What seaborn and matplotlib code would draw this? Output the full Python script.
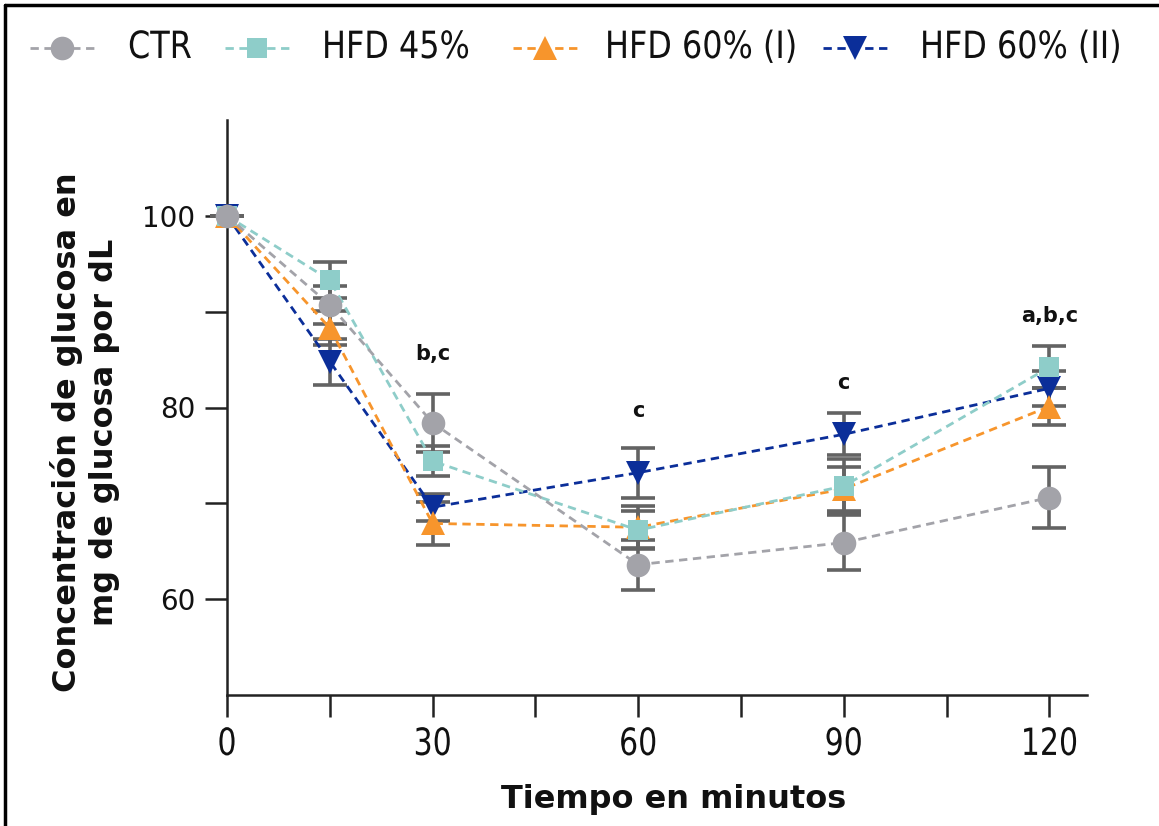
import matplotlib
matplotlib.use("Agg")
import matplotlib.pyplot as plt
from matplotlib.lines import Line2D
from matplotlib.transforms import Affine2D
import matplotlib.patheffects as pe
import numpy as np
import pandas as pd
import seaborn as sns

# Tiempo (min) y glucosa relativa (% del valor basal), media ± EEM
tiempo = [0, 15, 30, 60, 90, 120]
grupos = ["CTR", "HFD 45%", "HFD 60% (I)", "HFD 60% (II)"]

ctr_media = [100, 90.7, 78.4, 63.6, 65.9, 70.6]
ctr_eem = [0, 2.0, 3.0, 2.6, 2.9, 3.2]
hfd45_media = [100, 93.3, 74.4, 67.2, 71.8, 84.2]
hfd45_eem = [0, 1.9, 1.6, 2.0, 2.8, 2.2]
hfd60i_media = [100, 88.3, 67.9, 67.5, 71.5, 80.1]
hfd60i_eem = [0, 1.8, 2.2, 2.2, 2.3, 1.9]
hfd60ii_media = [100, 84.8, 69.6, 73.2, 77.2, 82.0]
hfd60ii_eem = [0, 2.4, 1.4, 2.6, 2.2, 1.8]

# Letras de significación sobre cada tiempo
letras_t = [30, 60, 90, 120]
letras = ["b,c", "c", "c", "a,b,c"]
letras_y = [85.6, 79.6, 82.6, 89.6]

colores = ["#a3a3a9", "#8ecdc9", "#f7952c", "#0b2e99"]
marcadores = ["o", "s", "^", "v"]
medias = [ctr_media, hfd45_media, hfd60i_media, hfd60ii_media]
eems = [ctr_eem, hfd45_eem, hfd60i_eem, hfd60ii_eem]

df = pd.DataFrame({
    "Tiempo": np.tile(tiempo, len(grupos)),
    "Glucosa": np.concatenate(medias),
    "EEM": np.concatenate(eems),
    "Grupo": np.repeat(grupos, len(tiempo)),
})


class Condensar(pe.AbstractPathEffect):
    """Estrecha horizontalmente el texto (tipografía condensada)."""

    def __init__(self, factor, ancla="center"):
        super().__init__()
        self.factor = factor
        self.ancla = ancla

    def draw_path(self, renderer, gc, tpath, affine, rgbFace=None):
        ext = tpath.get_extents()
        cx = (ext.x0 + ext.x1) / 2 if self.ancla == "center" else 0.0
        t = Affine2D().translate(-cx, 0).scale(self.factor, 1).translate(cx, 0) + affine
        renderer.draw_path(gc, tpath, t, rgbFace)


sns.set_theme(style="ticks")
plt.rcParams["font.family"] = ["DejaVu Sans"]

W, H = 1159, 826
fig = plt.figure(figsize=(W / 100, H / 100), dpi=100)
ax = fig.add_axes([227 / W, 1 - 695 / H, 860 / W, 575 / H])

msize = {"o": 17, "s": 15, "^": 17, "v": 17}
orden_dibujo = [3, 2, 1, 0]
for z, i in enumerate(orden_dibujo):
    g = grupos[i]
    sub = df[df["Grupo"] == g]
    ax.errorbar(sub["Tiempo"], sub["Glucosa"], yerr=sub["EEM"], fmt="none",
                ecolor="#636363", elinewidth=2.6, capsize=12, capthick=2.6,
                zorder=3 + z * 0.1, clip_on=False)
    sns.lineplot(data=sub, x="Tiempo", y="Glucosa", ax=ax, color=colores[i],
                 marker=marcadores[i], markersize=msize[marcadores[i]],
                 markeredgewidth=0, linestyle=(0, (3, 2)), linewidth=2.0,
                 errorbar=None, legend=False, zorder=4 + z * 0.1, clip_on=False)

for t, txt, yv in zip(letras_t, letras, letras_y):
    ax.text(t, yv, txt, ha="center", va="center", fontsize=15,
            fontweight="bold", color="#111111")

ax.set_xlim(0, 125.5)
ax.set_ylim(50, 110)
ax.set_xticks([0, 30, 60, 90, 120])
ax.set_xticks([15, 45, 75, 105], minor=True)
ax.set_yticks([60, 80, 100])
ax.set_yticks([70, 90], minor=True)
ax.tick_params(axis="both", which="both", length=16, width=1.8, color="#222222")
ax.tick_params(axis="x", which="major", pad=7, labelsize=27, labelcolor="#111111")
ax.tick_params(axis="y", which="major", pad=7, labelsize=20, labelcolor="#111111")
for lab in ax.get_xticklabels():
    lab.set_path_effects([Condensar(0.8)])
for sp in ["top", "right"]:
    ax.spines[sp].set_visible(False)
for sp in ["left", "bottom"]:
    ax.spines[sp].set_linewidth(1.8)
    ax.spines[sp].set_color("#222222")

ax.set_xlabel("Tiempo en minutos", fontsize=23, fontweight="bold", color="#111111")
ax.xaxis.set_label_coords((674 - 227) / 860, -0.155)
ax.set_ylabel("Concentración de glucosa en\nmg de glucosa por dL", fontsize=23,
              fontweight="bold", color="#111111", linespacing=1.25)
ax.yaxis.set_label_coords(-(227 - 120) / 860, (695 - 432) / 575)

# Leyenda en la parte superior: trazo discontinuo con marcador y rótulo
leg_marcador_x = [62, 257, 545, 855]
leg_texto_x = [128, 322, 605, 920]
leg_y = 1 - 48 / H
for i, g in enumerate(grupos):
    xm = leg_marcador_x[i]
    fig.add_artist(Line2D([(xm - 32) / W, xm / W, (xm + 32) / W], [leg_y] * 3,
                          transform=fig.transFigure, color=colores[i],
                          linestyle=(0, (3, 2)), linewidth=2.0))
    fig.add_artist(Line2D([xm / W], [leg_y], transform=fig.transFigure,
                          color=colores[i], marker=marcadores[i],
                          markersize=msize[marcadores[i]], markeredgewidth=0,
                          linestyle="none"))
    tx = fig.text(leg_texto_x[i] / W, leg_y, g, ha="left", va="center",
                  fontsize=27, color="#111111")
    tx.set_path_effects([Condensar(0.85, ancla="left")])

# Marco superior e izquierdo de la figura
fig.add_artist(Line2D([0.0045, 0.0045], [0.0, 0.994], transform=fig.transFigure,
                      color="black", linewidth=2.5))
fig.add_artist(Line2D([0.0045, 1.0], [0.994, 0.994], transform=fig.transFigure,
                      color="black", linewidth=2.5))

fig.savefig("out.png", dpi=100)
